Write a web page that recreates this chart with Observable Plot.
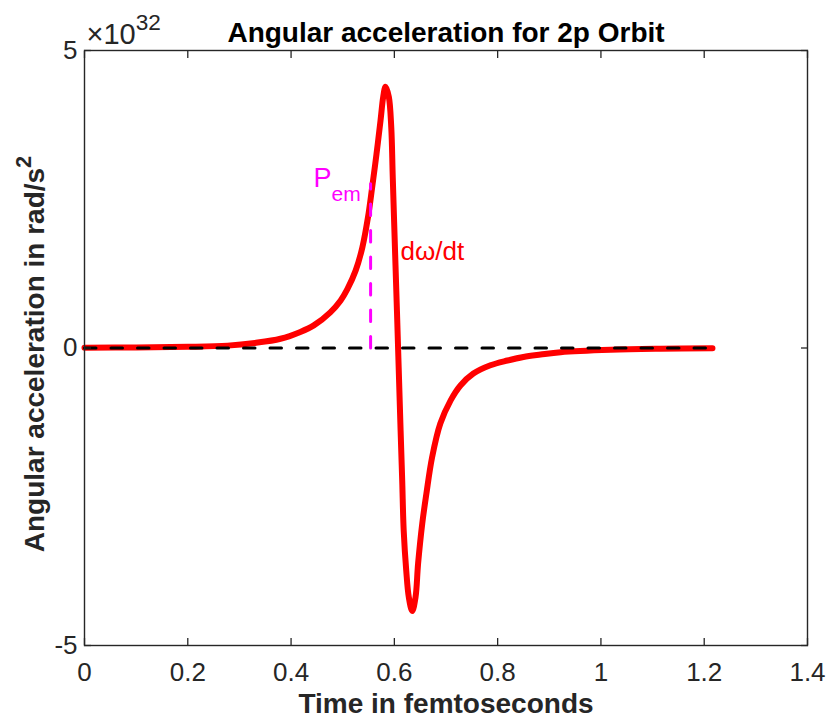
<!DOCTYPE html>
<html><head><meta charset="utf-8">
<script src="https://cdn.jsdelivr.net/npm/d3@7"></script>
<script src="https://cdn.jsdelivr.net/npm/@observablehq/plot@0.6"></script>
<style>body{margin:0;background:#fff}</style>
</head><body><div id="chart"></div>
<script>
// Time in femtoseconds
const time = [0, 0.1, 0.2, 0.277, 0.33, 0.3795, 0.418, 0.444, 0.476, 0.496, 0.509, 0.525, 0.538, 0.549, 0.557, 0.5654, 0.5732, 0.5784, 0.5829, 0.5893, 0.594, 0.5969, 0.6009, 0.605, 0.6121, 0.6152, 0.6181, 0.623, 0.628, 0.6346, 0.641, 0.646, 0.654, 0.662, 0.673, 0.689, 0.709, 0.728, 0.753, 0.786, 0.819, 0.85, 0.883, 0.922, 1.019, 1.115, 1.216];
// Angular acceleration, units of 1e32 rad/s^2
const accel = [0.005, 0.01, 0.02, 0.04, 0.085, 0.155, 0.27, 0.38, 0.6, 0.8, 0.99, 1.3, 1.69, 2.2, 2.7, 3.26, 3.82, 4.22, 4.39, 4.22, 3.71, 2.87, 1.75, 0.63, -1.39, -2.23, -3.07, -3.74, -4.19, -4.42, -4.19, -3.62, -2.95, -2.45, -1.84, -1.27, -0.88, -0.63, -0.43, -0.29, -0.21, -0.15, -0.11, -0.07, -0.03, -0.013, -0.005];
const zeroLineTime = [0, 1.217];
const zeroLineValue = [0, 0];
const pemTime = [0.554, 0.554];
const pemValue = [0, 2.76];
const xTicks = [0, 0.2, 0.4, 0.6, 0.8, 1, 1.2, 1.4];
const xTickLabels = ["0", "0.2", "0.4", "0.6", "0.8", "1", "1.2", "1.4"];
const yTicks = [-5, 0, 5];
const yTickLabels = ["-5", "0", "5"];
const titleText = "Angular acceleration for 2p Orbit";
const xLabelText = "Time in femtoseconds";
const yLabelText = "Angular acceleration in rad/s^{2}";
const exponentText = "\u00d710^{32}";
const pemLabel = "P_{em}";
const pemLabelAt = [0.4434, 2.857];
const curveLabel = "d\u03c9/dt";
const curveLabelAt = [0.612, 1.613];

const curve = time.map((t, i) => ({t, v: accel[i]}));
const zeroLine = zeroLineTime.map((t, i) => ({t, v: zeroLineValue[i]}));
const pemLine = pemTime.map((t, i) => ({t, v: pemValue[i]}));
const axisColor = "#262626";
const font = "'Liberation Sans', Arial, Helvetica, sans-serif";

const svg = Plot.plot({
  width: 837, height: 721,
  marginTop: 50, marginRight: 30, marginBottom: 76, marginLeft: 84,
  style: {fontFamily: font, fontSize: "26px", color: axisColor, background: "white", overflow: "visible"},
  x: {domain: [0, 1.4]},
  y: {domain: [-5, 5]},
  marks: [
    Plot.line(curve, {x: "t", y: "v", stroke: "#ff0000", strokeWidth: 6, curve: "catmull-rom"}),
    Plot.line(zeroLine, {x: "t", y: "v", stroke: "#000000", strokeWidth: 3, strokeDasharray: "11.5,15"}),
    Plot.line(pemLine, {x: "t", y: "v", stroke: "#ff00ff", strokeWidth: 3, strokeDasharray: "11.5,15"}),
    Plot.frame({stroke: axisColor, strokeWidth: 1.4}),
    Plot.axisX({ticks: xTicks, tickSize: -7, fill: "none", stroke: axisColor, strokeWidth: 1.3, label: null}),
    Plot.axisX({anchor: "top", ticks: xTicks, tickSize: -7, fill: "none", stroke: axisColor, strokeWidth: 1.3, label: null}),
    Plot.axisY({ticks: yTicks, tickSize: -7, fill: "none", stroke: axisColor, strokeWidth: 1.3, label: null}),
    Plot.axisY({anchor: "right", ticks: yTicks, tickSize: -7, fill: "none", stroke: axisColor, strokeWidth: 1.3, label: null}),
    Plot.axisX({ticks: xTicks, tickSize: 0, tickPadding: 17, fill: axisColor, fontSize: 26, label: null,
      tickFormat: d => xTickLabels[xTicks.indexOf(d)]}),
    Plot.axisY({ticks: yTicks, tickSize: 0, tickPadding: 7, fill: axisColor, fontSize: 26, label: null,
      tickFormat: d => yTickLabels[yTicks.indexOf(d)]}),
    Plot.text([titleText], {frameAnchor: "top", lineAnchor: "middle", textAnchor: "middle", dy: -17.5, fontWeight: "bold", fontSize: 28, fill: "#000"}),
    Plot.text([xLabelText], {frameAnchor: "bottom", lineAnchor: "middle", textAnchor: "middle", dy: 59, fontWeight: "bold", fontSize: 28, fill: axisColor}),
    Plot.text([yLabelText], {frameAnchor: "left", lineAnchor: "middle", textAnchor: "middle", rotate: -90, dx: -49, dy: 6, fontWeight: "bold", fontSize: 28, fill: axisColor}),
    Plot.text([exponentText], {frameAnchor: "top-left", lineAnchor: "middle", textAnchor: "start", dx: 2, dy: -16, fontSize: 29, fill: axisColor}),
    Plot.text([pemLabel], {x: () => pemLabelAt[0], y: () => pemLabelAt[1], lineAnchor: "middle", textAnchor: "start", fontSize: 27, fill: "#ff00ff"}),
    Plot.text([curveLabel], {x: () => curveLabelAt[0], y: () => curveLabelAt[1], lineAnchor: "middle", textAnchor: "start", fontSize: 26, fill: "#ff0000"})
  ]
});

// TeX-like ^{..} and _{..} into tspans
d3.select(svg).selectAll("text").each(function () {
  const s = this.textContent;
  if (!/[\^_]\{/.test(s)) return;
  const parts = s.split(/([\^_]\{[^}]*\})/).filter(p => p.length);
  this.textContent = "";
  let shift = 0; // current offset in parent em
  for (const p of parts) {
    const ts = d3.select(this).append("tspan");
    if (p.startsWith("^{") || p.startsWith("_{")) {
      const size = p[0] === "^" ? 0.78 : 0.78;
      const target = p[0] === "^" ? -0.48 : 0.55;
      ts.attr("font-size", size + "em").attr("dy", ((target - shift) / size) + "em");
      shift = target;
      ts.text(p.slice(2, -1));
    } else {
      if (shift) ts.attr("dy", (-shift) + "em");
      shift = 0;
      ts.text(p);
    }
  }
});

document.getElementById("chart").appendChild(svg);
</script>
</body></html>
